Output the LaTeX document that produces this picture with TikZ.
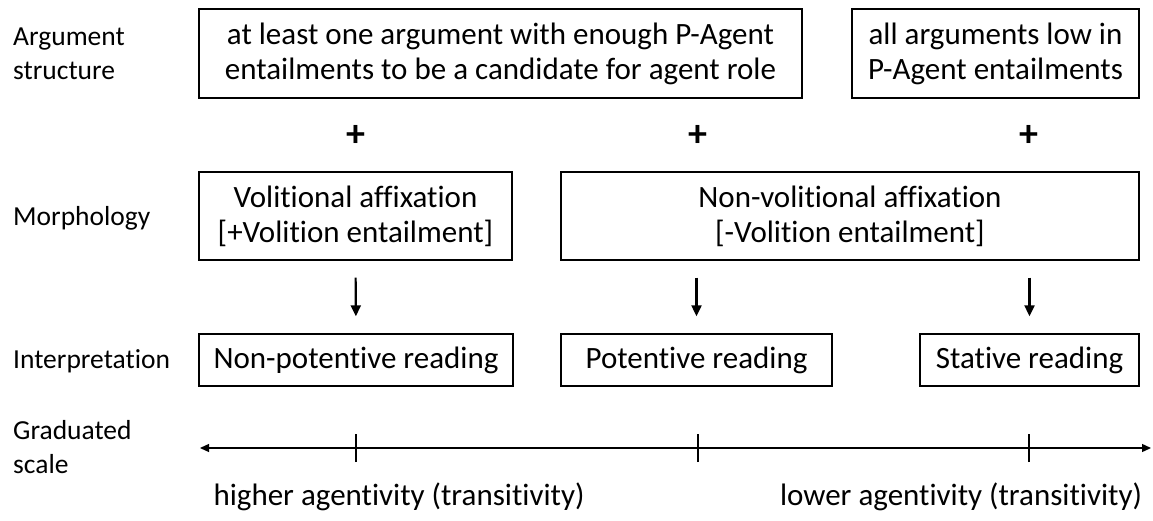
\documentclass[tikz,border=0pt]{standalone}
\usepackage{fontspec}
\setmainfont{Carlito}[Ligatures={NoCommon}]
\usetikzlibrary{arrows.meta}
\begin{document}
\begin{tikzpicture}[x=1pt,y=-1pt,
  txt/.style={font=\fontsize{31}{35}\selectfont},
  box/.style={draw, line width=1.4pt, txt, align=center, inner sep=0pt},
  rowlabel/.style={font=\fontsize{27.5}{34}\selectfont, align=left, anchor=base west, inner sep=0pt},
  plus/.style={font=\fontsize{38}{38}\selectfont\bfseries, inner sep=0pt},
  down/.style={-{Triangle[length=11pt,width=10pt]}, line width=2.2pt, shorten <=17pt, shorten >=17pt},
  tick/.style={line width=1.3pt}
]
\useasboundingbox (0,0) rectangle (1153,521);

% row labels (base anchor sits on the last line)
\node[rowlabel] (lab1) at (13,80) {Argument\\structure};
\node[rowlabel] (lab2) at (13,226) {Morphology};
\node[rowlabel] (lab3) at (13,368) {Interpretation};
\node[rowlabel] (lab4) at (13,473) {Graduated\\scale};

% argument structure
\node[box, minimum width=603pt, minimum height=89pt] (A) at (500.5,53.5)
  {at least one argument with enough P-Agent\\entailments to be a candidate for agent role};
\node[box, minimum width=287pt, minimum height=89pt] (B) at (995.5,53.5)
  {all arguments low in\\P-Agent entailments};

% plus signs
\node[plus] (p1) at (356,136) {+};
\node[plus] (p2) at (698,136) {+};
\node[plus] (p3) at (1029,136) {+};

% morphology
\node[box, minimum width=313pt, minimum height=88pt] (C) at (355.5,216)
  {Volitional affixation\\{[+Volition entailment]}};
\node[box, minimum width=578pt, minimum height=88pt] (D) at (850,216)
  {Non-volitional affixation\\{[-Volition entailment]}};

% interpretation
\node[box, minimum width=314pt, minimum height=52pt] (E) at (356,360) {Non-potentive reading};
\node[box, minimum width=271pt, minimum height=52pt] (F) at (696.5,360) {Potentive reading};
\node[box, minimum width=219pt, minimum height=52pt] (G) at (1029.5,360) {Stative reading};

% arrows from morphology to readings
\draw[down] (C.south) -- (E.north);
\draw[down] (D.south -| F.north) -- (F.north);
\draw[down] (D.south -| G.north) -- (G.north);

% graduated scale
\coordinate (sl) at (200,448);
\coordinate (sr) at (1151,448);
\draw[{Triangle[length=9pt,width=8pt]}-{Triangle[length=9pt,width=8pt]}, line width=1.3pt] (sl) -- (sr);
\coordinate (t1) at (356,448);
\coordinate (t2) at (698,448);
\coordinate (t3) at (1029,448);
\foreach \t in {t1,t2,t3}
  \draw[tick] ([yshift=-14pt]\t) -- ([yshift=14pt]\t);

\node[txt, anchor=base, inner sep=0pt] (hi) at (399,505) {higher agentivity (transitivity)};
\node[txt, anchor=base, inner sep=0pt] (lo) at (961,505) {lower agentivity (transitivity)};
\end{tikzpicture}
\end{document}
